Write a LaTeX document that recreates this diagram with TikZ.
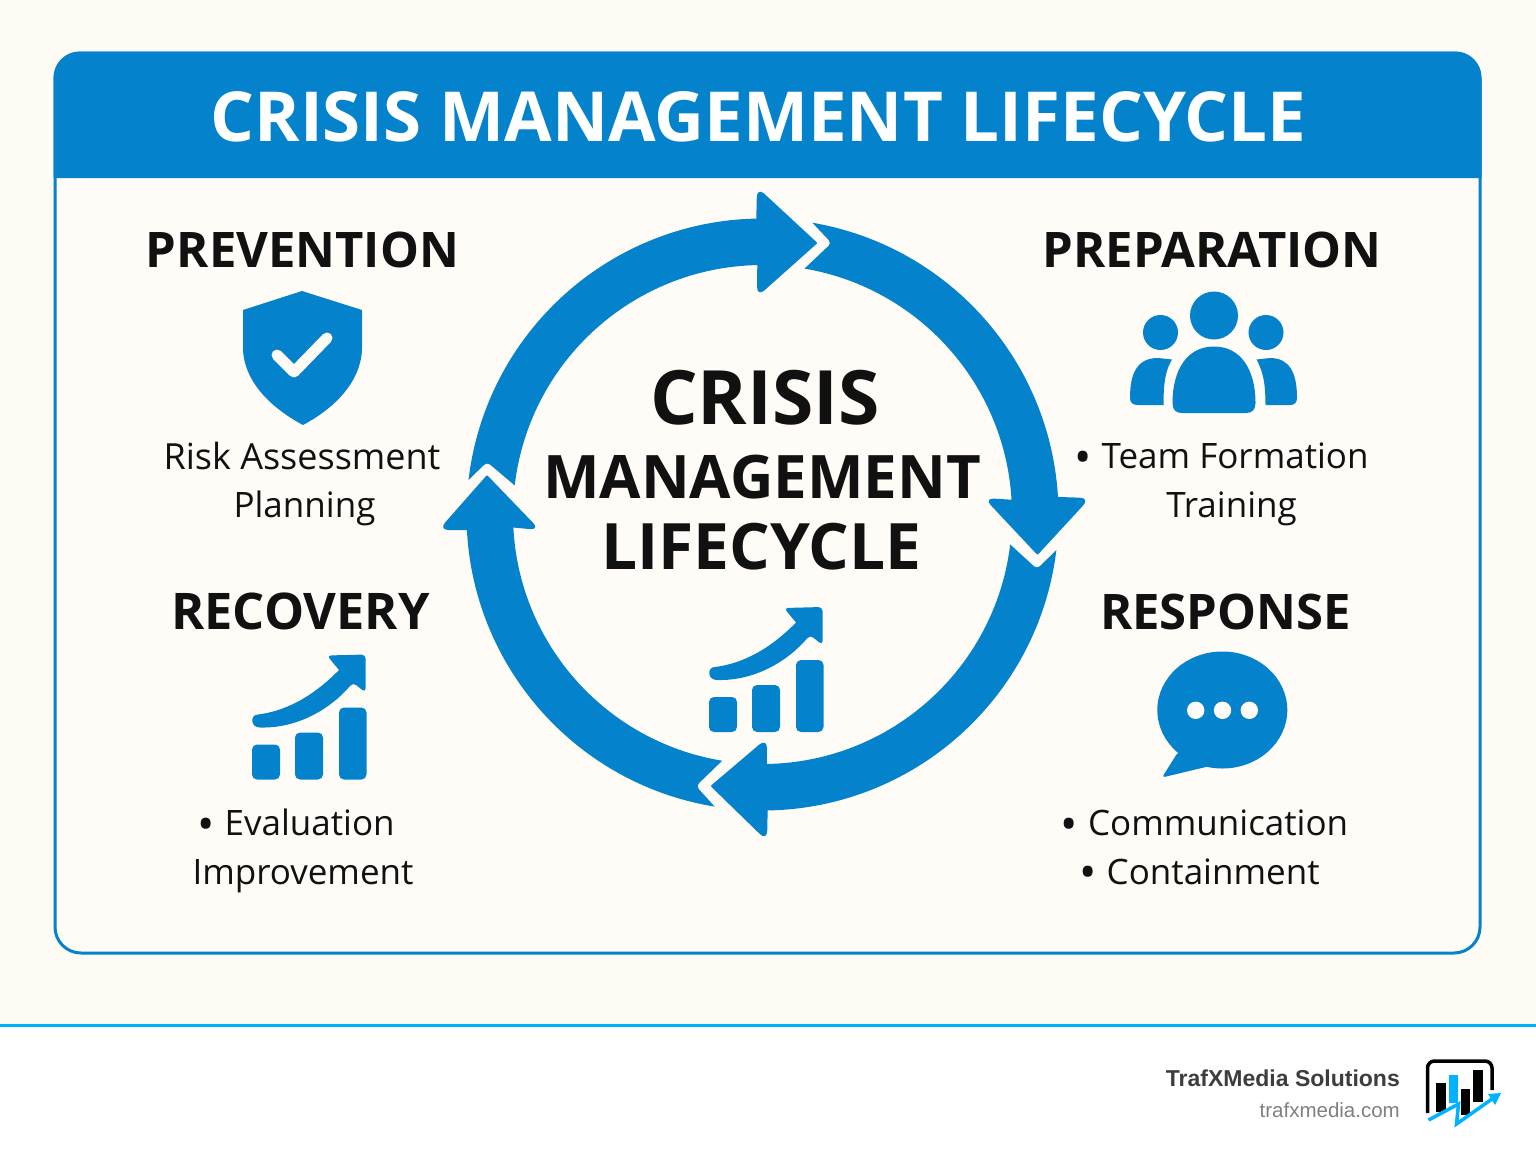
\documentclass[tikz,border=0pt]{standalone}
\usepackage{fontspec}
\setmainfont{Open Sans}
\newfontfamily\footfont{Liberation Sans}
\usetikzlibrary{calc}
\definecolor{crisisblue}{HTML}{0482CC}
\definecolor{paper}{HTML}{FEFAF4}
\definecolor{panel}{HTML}{FFFCF8}
\definecolor{inkdark}{HTML}{111111}
\definecolor{stripe}{HTML}{00B2FF}
\tikzset{
	banner/.style={anchor=base, inner sep=0pt, text=white, font=\bfseries\fontsize{69}{69}\selectfont},
	middleword/.style={anchor=base, inner sep=0pt, text=inkdark, font=\bfseries\fontsize{#1}{#1}\selectfont},
	phase/.style={anchor=base, inner sep=0pt, text=inkdark, font=\bfseries\fontsize{49}{49}\selectfont},
	detail/.style={anchor=base, inner sep=0pt, text=inkdark, font=\fontsize{35}{35}\selectfont},
	iconfill/.style={fill=crisisblue}
}
\def\itemdot{\raisebox{-4.5pt}{\fontsize{46}{46}\selectfont •}\hspace{10pt}}
% one ring segment: angles, head point, tip, head point, notch
\def\ringarrow[#1:#2](#3)(#4)(#5)(#6){\fill[crisisblue] ($(762.5,514.5)+(#1:296)$) arc (#1:#2:296) [rounded corners=10pt] -- (#3) [rounded corners=1pt] -- (#4) [rounded corners=10pt] -- (#5) [sharp corners] -- ($(762.5,514.5)+(#2:249.5)$) arc (#2:#1:249.5) [rounded corners=4pt] -- (#6) [sharp corners] -- cycle;}
% bars and rising arrow, placed by the top left of the icon
\def\chartmark(#1,#2){
	\begin{scope}[shift={(#1,#2)}]
		\fill[iconfill, rounded corners=5pt] (0, 90) rectangle (28, 125);
		\fill[iconfill, rounded corners=5pt] (43, 78) rectangle (71, 125);
		\fill[iconfill, rounded corners=5pt] (87, 53) rectangle (114.5, 125);
		\fill[iconfill] (6, 60) .. controls (38, 56) and (65, 38) .. (87, 15.5) [rounded corners=4pt] -- (75, 1) -- (113.5, 0) -- (113.5, 38) -- (101, 28) [sharp corners] .. controls (78, 55) and (45, 74) .. (8, 73) .. controls (-2, 73) and (-2, 60) .. (6, 60) -- cycle;
	\end{scope}
}
\begin{document}
\begin{tikzpicture}[x=1pt, y=-1pt]
	\useasboundingbox (0, 0) rectangle (1536, 1154);
	%%%%% PAGE %%%%%
	\fill[paper] (0, 0) rectangle (1536, 1026);
	\fill[white] (0, 1026) rectangle (1536, 1154);
	\draw[stripe, line width=3.5pt] (0, 1025.5) -- (1536, 1025.5);

	%%%%% CARD %%%%%
	\draw[crisisblue, fill=panel, line width=3pt, rounded corners=26pt] (55, 53) rectangle (1480, 953);
	\fill[crisisblue] (53.5, 178) -- (53.5, 120) [rounded corners=26pt] -- (53.5, 51.5) -- (1481.5, 51.5) -- (1481.5, 120) [sharp corners] -- (1481.5, 178) -- cycle;
	\node[banner] (title) at (758.5, 141) {CRISIS MANAGEMENT LIFECYCLE};

	%%%%% RING %%%%%
	\ringarrow[186.7:268.8](757, 187)(817.5, 243)(757, 297)(487, 462)
	\ringarrow[279.7:356.6](1090, 498)(1037.5, 555)(984, 498)(831.5, 243)
	\ringarrow[6.9:89](767, 841)(710.5, 786)(767, 738)(1037, 569)
	\ringarrow[99.3:177](438.5, 530)(487, 475)(540, 530)(696, 786)

	\node[middleword=75] (crisisword) at (765, 424) {CRISIS};
	\node[middleword=60] (managementword) at (762, 498) {MANAGEMENT};
	\node[middleword=64] (lifecycleword) at (761.5, 569) {LIFECYCLE};
	\chartmark(709, 607)

	%%%%% PREVENTION %%%%%
	\node[phase] (prevention) at (302.5, 267) {PREVENTION};
	\fill[iconfill] (302, 291) -- (362, 310) -- (362, 350) .. controls (360, 385) and (331, 410) .. (303, 425) .. controls (275, 410) and (245, 385) .. (243, 350) -- (243, 310) -- cycle;
	\draw[panel, line width=11pt, line cap=round, line join=round] (277, 355) -- (294, 372) -- (327, 338);
	\node[detail, font=\fontsize{36}{36}\selectfont] (risk) at (302, 469) {Risk Assessment};
	\node[detail] (planning) at (304.5, 517) {Planning};

	%%%%% PREPARATION %%%%%
	\node[phase] (preparation) at (1212, 267) {PREPARATION};
	\fill[iconfill] (1214, 315.5) circle (24);
	\fill[iconfill] (1160.5, 332.5) circle (17.5);
	\fill[iconfill] (1266, 332.5) circle (17.5);
	\fill[iconfill] (1172.5, 403) .. controls (1172.5, 370) and (1187, 346.5) .. (1214, 346.5) .. controls (1241, 346.5) and (1255.5, 370) .. (1255.5, 403) .. controls (1255.5, 410) and (1252, 413) .. (1246, 413) -- (1182, 413) .. controls (1176, 413) and (1172.5, 410) .. (1172.5, 403) -- cycle;
	\fill[iconfill] (1130, 398) .. controls (1130, 372) and (1138, 358) .. (1158, 358) -- (1172, 359.5) .. controls (1166, 370) and (1163.5, 380) .. (1163.5, 405) -- (1138, 405) .. controls (1133, 405) and (1130, 403) .. (1130, 398) -- cycle;
	\fill[iconfill] (1297, 398) .. controls (1297, 372) and (1289, 358) .. (1270, 358) -- (1256.5, 359.5) .. controls (1262, 370) and (1265.5, 380) .. (1265.5, 405) -- (1290, 405) .. controls (1294, 405) and (1297, 403) .. (1297, 398) -- cycle;
	\node[detail] (team) at (1221.5, 468.5) {\itemdot Team Formation};
	\node[detail] (training) at (1231.5, 517) {Training};

	%%%%% RECOVERY %%%%%
	\node[phase, font=\bfseries\fontsize{50.5}{50.5}\selectfont] (recovery) at (300.5, 629) {RECOVERY};
	\chartmark(252, 654.5)
	\node[detail] (evaluation) at (296, 835.5) {\itemdot Evaluation};
	\node[detail] (improvement) at (303, 884) {Improvement};

	%%%%% RESPONSE %%%%%
	\node[phase] (response) at (1225.5, 629) {RESPONSE};
	\fill[iconfill] (1222.3, 710) ellipse (65 and 58.5);
	\fill[iconfill, rounded corners=3pt] (1178, 752) -- (1162, 777.5) -- (1210, 766) -- cycle;
	\foreach \dotx in {1195.7, 1222.5, 1249.3} {
		\fill[panel] (\dotx, 710.3) circle (8.7);
	}
	\node[detail] (communication) at (1204.5, 835.5) {\itemdot Communication};
	\node[detail] (containment) at (1199.5, 884) {\itemdot Containment};

	%%%%% FOOTER %%%%%
	\node[anchor=base east, inner sep=0pt, text=black!76, font=\fontsize{23}{23}\selectfont\footfont\bfseries] (brand) at (1400, 1086) {TrafXMedia Solutions};
	\node[anchor=base east, inner sep=0pt, text=black!50, font=\fontsize{20.5}{20.5}\selectfont\footfont] (site) at (1400, 1117) {trafxmedia.com};
	\draw[black, line width=3.5pt, rounded corners=7pt] (1427.5, 1113) -- (1427.5, 1061) -- (1492, 1061) -- (1492, 1090);
	\fill[black] (1436, 1082.5) rectangle (1445.5, 1112);
	\fill[stripe] (1448.5, 1074.5) rectangle (1457.5, 1103);
	\fill[black] (1460.5, 1088.5) rectangle (1469.5, 1115);
	\fill[black] (1473, 1069.5) rectangle (1482.5, 1101.5);
	\draw[stripe, line width=3.5pt] (1428.5, 1120) -- (1458.5, 1104) -- (1456.5, 1124) -- (1492, 1099);
	\fill[stripe] (1501, 1093) -- (1488, 1094) -- (1495, 1105) -- cycle;
\end{tikzpicture}
\end{document}
